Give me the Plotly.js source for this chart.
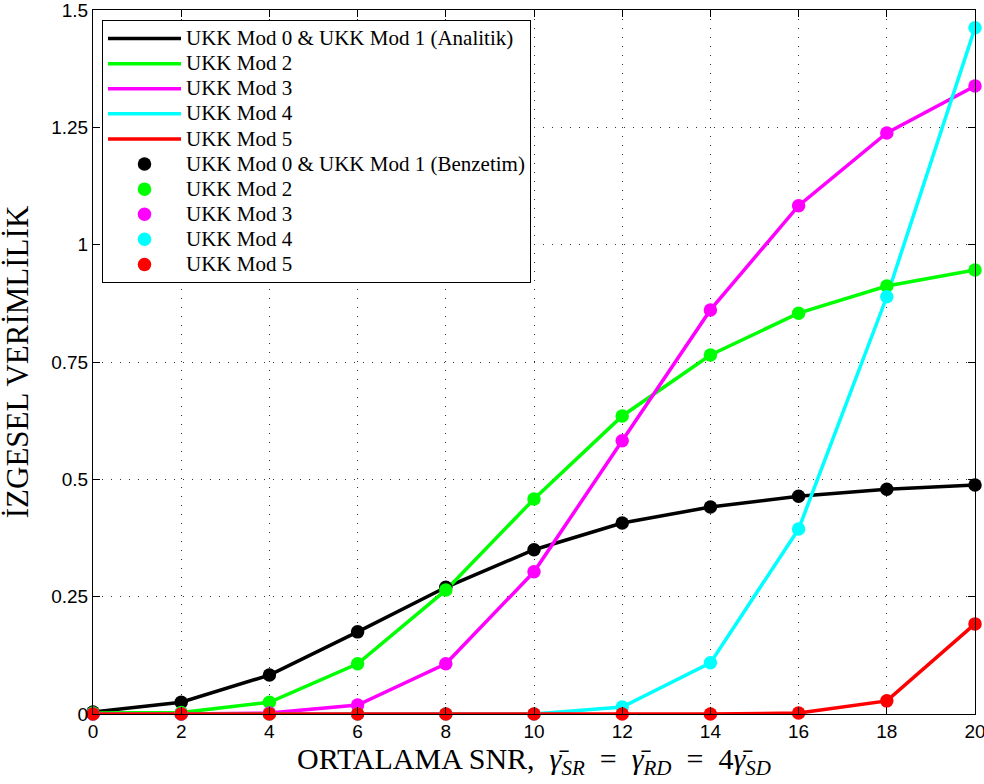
<!DOCTYPE html>
<html><head><meta charset="utf-8">
<script src="https://cdn.plot.ly/plotly-3.0.1.min.js"></script>
<style>body{margin:0;background:#fff}#c{width:984px;height:784px}</style>
</head><body><div id="c"></div>
<script>
const snr = [0, 2, 4, 6, 8, 10, 12, 14, 16, 18, 20];
const mod01 = [0.004, 0.025, 0.083, 0.175, 0.270, 0.350, 0.407, 0.441, 0.464, 0.479, 0.488];
const mod2  = [0.002, 0.003, 0.025, 0.107, 0.264, 0.458, 0.635, 0.765, 0.854, 0.912, 0.946];
const mod3  = [0.000, 0.000, 0.002, 0.019, 0.107, 0.303, 0.582, 0.861, 1.083, 1.238, 1.338];
const mod4  = [0.000, 0.000, 0.000, 0.000, 0.000, 0.000, 0.015, 0.109, 0.394, 0.889, 1.462];
const mod5  = [0.000, 0.000, 0.000, 0.000, 0.000, 0.000, 0.000, 0.000, 0.002, 0.028, 0.192];
const series = [mod01, mod2, mod3, mod4, mod5];
const colors = ['#000000', '#00ff00', '#ff00ff', '#00ffff', '#ff0000'];
const lineNames = ['UKK Mod 0 &amp; UKK Mod 1 (Analitik)', 'UKK Mod 2', 'UKK Mod 3', 'UKK Mod 4', 'UKK Mod 5'];
const markNames = ['UKK Mod 0 &amp; UKK Mod 1 (Benzetim)', 'UKK Mod 2', 'UKK Mod 3', 'UKK Mod 4', 'UKK Mod 5'];
const xTicks = [0, 2, 4, 6, 8, 10, 12, 14, 16, 18, 20];
const yTicks = [0, 0.25, 0.5, 0.75, 1, 1.25, 1.5];
const yTickText = ['0', '0.25', '0.5', '0.75', '1', '1.25', '1.5'];

const big = t => '<span style="font-size:21px">' + t + '</span>';
const traces = [];
series.forEach((s, i) => traces.push({x: snr, y: s, mode: 'lines', name: big(lineNames[i]),
  line: {color: colors[i], width: 3.5}, cliponaxis: false}));
series.forEach((s, i) => traces.push({x: snr, y: s, mode: 'markers', name: big(markNames[i]),
  marker: {color: colors[i], size: 13.5}, cliponaxis: false}));

const axCommon = {showline: true, linecolor: '#000', linewidth: 1, mirror: 'ticks',
  ticks: 'inside', ticklen: 7, tickcolor: '#000', showgrid: true, gridcolor: '#333',
  griddash: '1px,8px', gridwidth: 1, zeroline: false, ticklabeloverflow: 'allow',
  tickfont: {family: 'Liberation Sans, Arial', size: 19, color: '#000'}};

const eq = '\u2002=\u2002';
const layout = {
  width: 984, height: 784,
  margin: {l: 93, r: 9, t: 10, b: 70},
  paper_bgcolor: '#fff', plot_bgcolor: '#fff',
  showlegend: true,
  legend: {x: 0.0102, y: 0.9858, xanchor: 'left', yanchor: 'top', bgcolor: '#fff',
    bordercolor: '#000', borderwidth: 1,
    font: {family: 'Liberation Serif, Times New Roman', size: 17, color: '#000'},
    itemwidth: 73, tracegroupgap: 0},
  xaxis: Object.assign({}, axCommon, {range: [0, 20], tickvals: xTicks,
    title: {text: 'ORTALAMA SNR,\u2002<i>γ̄<sub>SR</sub></i>' + eq + '<i>γ̄<sub>RD</sub></i>' + eq + '4<i>γ̄<sub>SD</sub></i>',
      font: {family: 'Liberation Serif, Times New Roman', size: 30, color: '#000'}, standoff: 5}}),
  yaxis: Object.assign({}, axCommon, {range: [0, 1.5], tickvals: yTicks, ticktext: yTickText,
    title: {text: 'İZGESEL VERİMLİLİK',
      font: {family: 'Liberation Serif, Times New Roman', size: 31, color: '#000'}, standoff: 14}})
};
Plotly.newPlot('c', traces, layout, {displayModeBar: false, staticPlot: true});
</script></body></html>
